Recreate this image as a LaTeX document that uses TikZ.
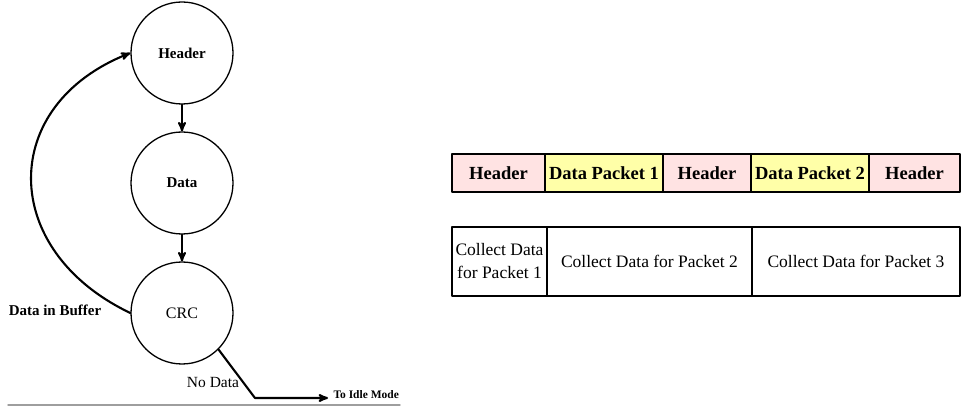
\documentclass[tikz,border=0pt]{standalone}
\usepackage{fontspec}
\setmainfont{Liberation Serif}
\usetikzlibrary{arrows}
\definecolor{ffe4e4}{rgb}{1,0.89,0.89}
\definecolor{ffffa8}{rgb}{1,1,0.66}
\definecolor{aaaaaa}{rgb}{0.62,0.62,0.62}

\begin{document}
\begin{tikzpicture}[line cap=round,line join=round,>=stealth',x=1pt,y=-1pt,
    state/.style={circle,draw,line width=1.3pt,minimum size=102pt,inner sep=0pt},
    cell/.style={draw,line width=2.2pt,minimum height=38pt,inner sep=0pt,font=\fontsize{18.5}{20}\selectfont\bfseries},
    slot/.style={draw,line width=2.2pt,minimum height=69pt,inner sep=0pt,align=center,font=\fontsize{17.5}{23}\selectfont}]
	\useasboundingbox (0,0) rectangle (962,406);
	% state loop
	\draw (182,53) node[state,font=\fontsize{15}{18}\selectfont\bfseries] (header) {Header};
	\draw (182,183) node[state,font=\fontsize{15}{18}\selectfont\bfseries] (data) {Data};
	\draw (182,313) node[state,font=\fontsize{16}{18}\selectfont] (crc) {CRC};
	\draw [->,line width=2.1pt] (header) -- (data);
	\draw [->,line width=2.1pt] (data) -- (crc);
	\draw [->,line width=2.1pt] (crc.west) .. controls +(-132,-63) and +(-132,52) .. (header.west);
	\coordinate (corner) at (255,398);
	\coordinate (idle) at (328,398);
	\draw [->,line width=2.1pt] (crc.south east) -- (corner) -- (idle);
	\draw [color=aaaaaa,line width=1.4pt] (8,405) -- (400,405);
	\draw (55,310) node[font=\fontsize{15}{18}\selectfont\bfseries] (buffer) {Data in Buffer};
	\draw (213,383) node[font=\fontsize{15.5}{18}\selectfont] (nodata) {No Data};
	\draw (idle) node[anchor=base west,xshift=2pt,font=\fontsize{11.5}{14}\selectfont\bfseries] (tomode) {To Idle Mode};
	% frame row
	\draw (498.5,173) node[cell,fill=ffe4e4,minimum width=93pt] (h1) {Header};
	\draw (604,173) node[cell,fill=ffffa8,minimum width=118pt] (d1) {Data Packet 1};
	\draw (707,173) node[cell,fill=ffe4e4,minimum width=88pt] (h2) {Header};
	\draw (810,173) node[cell,fill=ffffa8,minimum width=118pt] (d2) {Data Packet 2};
	\draw (914.5,173) node[cell,fill=ffe4e4,minimum width=91pt] (h3) {Header};
	% collect row
	\draw (499.5,261.5) node[slot,minimum width=95pt] (c1) {Collect Data\\for Packet 1};
	\draw (649.5,261.5) node[slot,minimum width=205pt] (c2) {Collect Data for Packet 2};
	\draw (856,261.5) node[slot,minimum width=208pt] (c3) {Collect Data for Packet 3};
\end{tikzpicture}
\end{document}
